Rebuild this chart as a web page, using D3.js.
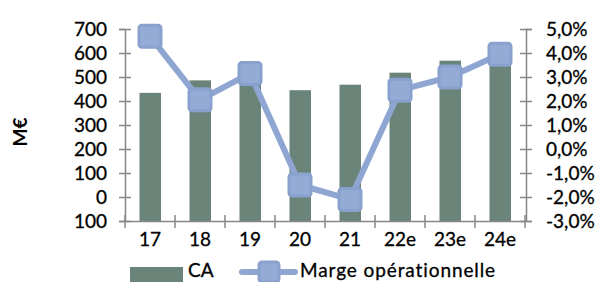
<!DOCTYPE html>
<html>
<head>
<meta charset="utf-8">
<script src="https://cdn.jsdelivr.net/npm/d3@7"></script>
<style>
    body { margin: 0; background: #fff; }
    text { font-family: Lato, "Open Sans", sans-serif; fill: #000; }
</style>
</head>
<body>
<svg id="chart" width="600" height="282"></svg>
<script>
// data
const years = ["17", "18", "19", "20", "21", "22e", "23e", "24e"];
const ca = [434, 486, 490, 445, 468, 518, 568, 590];
const marge = [4.7, 2.05, 3.15, -1.5, -2.1, 2.45, 3.0, 3.95];
const leftTicks = [700, 600, 500, 400, 300, 200, 100, 0, -100];
const rightTicks = [5, 4, 3, 2, 1, 0, -1, -2, -3];

const svg = d3.select("#chart");
const barColour = "#6b8479";
const lineColour = "#8ea6d1";
const axisColour = "#878787";
const fontSize = 19;

const x = d3.scaleBand().domain(years).range([125, 525]);
const yLeft = d3.scaleLinear().domain([-100, 700]).range([221, 29]);
const yRight = d3.scaleLinear().domain([-3, 5]).range([221, 29]);

// bars start at the bottom of the axis (like excel does)
svg.append("g")
    .selectAll("rect")
    .data(years)
    .join("rect")
    .attr("x", (d) => x(d) + x.bandwidth() / 2 - 10.5)
    .attr("width", 21.5)
    .attr("y", (d, i) => yLeft(ca[i]))
    .attr("height", (d, i) => yLeft(-100) - yLeft(ca[i]))
    .attr("fill", barColour);

// left axis
const left = svg.append("g").attr("transform", "translate(125,0)")
    .call(d3.axisLeft(yLeft).tickValues(leftTicks).tickSize(6)
        .tickFormat((d) => Math.abs(d)));
left.selectAll(".tick line").attr("x2", -6).attr("x1", 6);

// right axis
const right = svg.append("g").attr("transform", "translate(526,0)")
    .call(d3.axisRight(yRight).tickValues(rightTicks).tickSize(6)
        .tickFormat((d) => d3.format(".1f")(d).replace(".", ",").replace("−", "-") + "%"));
right.selectAll(".tick line").attr("x1", -6).attr("x2", 6);

// category axis
const bottom = svg.append("g").attr("transform", "translate(0,221)")
    .call(d3.axisBottom(x).tickSize(0));
bottom.selectAll(".tick text").attr("dy", 0).attr("y", 25);
bottom.selectAll(".sep")
    .data(d3.range(years.length + 1))
    .join("line")
    .attr("class", "sep")
    .attr("x1", (d) => 125 + d * x.step())
    .attr("x2", (d) => 125 + d * x.step())
    .attr("y1", -6)
    .attr("y2", 7);

[left, right, bottom].forEach((g) => {
    g.select(".domain").attr("stroke", axisColour).attr("stroke-width", 1.5);
    g.selectAll("line").attr("stroke", axisColour).attr("stroke-width", 1.5);
    g.selectAll("text").attr("font-size", fontSize).attr("fill", "#000")
        .attr("stroke", "#000").attr("stroke-width", 0.3)
        .attr("font-family", "Lato, sans-serif");
});
left.selectAll(".tick text").attr("x", -18);
right.selectAll(".tick text").attr("x", 20);

// margin line
const line = d3.line()
    .x((d, i) => x(years[i]) + x.bandwidth() / 2)
    .y((d) => yRight(d));

svg.append("path")
    .datum(marge)
    .attr("d", line)
    .attr("fill", "none")
    .attr("stroke", lineColour)
    .attr("stroke-width", 6)
    .attr("stroke-linejoin", "round");

svg.append("g")
    .selectAll("rect")
    .data(marge)
    .join("rect")
    .attr("x", (d, i) => x(years[i]) + x.bandwidth() / 2 - 11)
    .attr("y", (d) => yRight(d) - 11)
    .attr("width", 22)
    .attr("height", 22)
    .attr("rx", 3)
    .attr("fill", "#93abd5")
    .attr("stroke", "#89a1cd")
    .attr("stroke-width", 3);

// y title
svg.append("text")
    .attr("transform", "translate(27,132) rotate(-90)")
    .attr("text-anchor", "middle")
    .attr("font-size", 19)
    .attr("font-weight", "bold")
    .text("M€");

// legend
const legend = svg.append("g");
legend.append("rect")
    .attr("x", 130).attr("y", 267).attr("width", 53).attr("height", 15)
    .attr("fill", barColour);
legend.append("text")
    .attr("x", 188).attr("y", 277).attr("font-size", fontSize)
    .attr("stroke", "#000").attr("stroke-width", 0.3).text("CA");
legend.append("line")
    .attr("x1", 242).attr("x2", 295).attr("y1", 272).attr("y2", 272)
    .attr("stroke", lineColour).attr("stroke-width", 6).attr("stroke-linecap", "round");
legend.append("rect")
    .attr("x", 259).attr("y", 262).attr("width", 20).attr("height", 20).attr("rx", 3)
    .attr("fill", "#93abd5").attr("stroke", "#89a1cd").attr("stroke-width", 3);
legend.append("text")
    .attr("x", 300).attr("y", 277).attr("font-size", fontSize)
    .attr("letter-spacing", 0.9)
    .attr("stroke", "#000").attr("stroke-width", 0.3).text("Marge opérationnelle");
</script>
</body>
</html>
